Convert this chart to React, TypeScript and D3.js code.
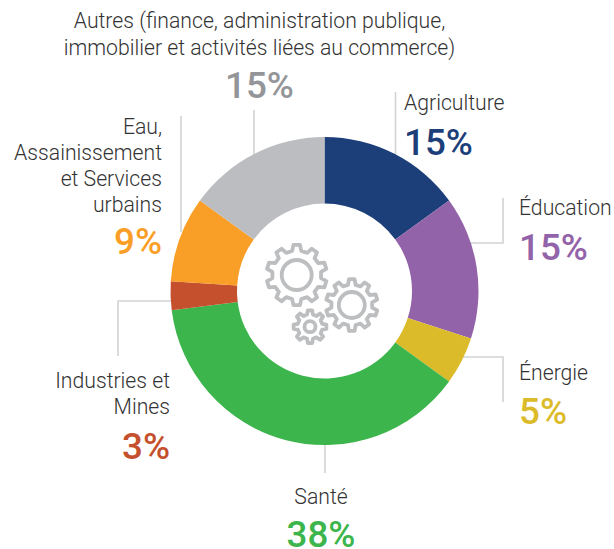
import React from "react";
import * as d3 from "d3";

const sectors = ["Agriculture", "Éducation", "Énergie", "Santé", "Industries et Mines", "Eau", "Autres"];
const shares = [15, 15, 5, 38, 3, 9, 15];
const fills = ["#1c3f7a", "#9363a9", "#dcbb2a", "#3cb54c", "#c5502e", "#f99f27", "#bbbdc0"];

type Caption = { lines: string[]; pct: string; x: number; y: number[]; pctY: number; anchor: string; color: string };
const captions: Caption[] = [
  { lines: ["Agriculture"], pct: "15%", x: 404, y: [110], pctY: 155, anchor: "start", color: "#1c3f7a" },
  { lines: ["Éducation"], pct: "15%", x: 519, y: [215], pctY: 260, anchor: "start", color: "#9363a9" },
  { lines: ["Énergie"], pct: "5%", x: 519, y: [380], pctY: 424, anchor: "start", color: "#dcbb2a" },
  { lines: ["Santé"], pct: "38%", x: 321, y: [504], pctY: 547, anchor: "middle", color: "#3cb54c" },
  { lines: ["Industries et", "Mines"], pct: "3%", x: 170, y: [388, 414], pctY: 459, anchor: "end", color: "#c5502e" },
  { lines: ["Eau,", "Assainissement", "et Services", "urbains"], pct: "9%", x: 162, y: [134, 160, 186, 212], pctY: 254, anchor: "end", color: "#f99f27" },
  { lines: ["Autres (finance, administration publique,", "immobilier et activités liées au commerce)"], pct: "15%", x: 259.5, y: [28, 55], pctY: 98, anchor: "middle", color: "#939598" },
];

const leaders: [number, number][][] = [
  [[395.5, 92], [395.5, 155]],
  [[503, 198], [503, 243], [470, 243]],
  [[463, 357], [503, 357], [503, 402]],
  [[325, 440], [325, 473]],
  [[118, 356], [118, 301], [175, 301]],
  [[181, 116], [181, 232]],
  [[254, 110], [254, 156]],
];

const gears = [
  { cx: 296.7, cy: 275, outer: 30.3, root: 24.5, hole: 15, teeth: 10 },
  { cx: 351.8, cy: 305, outer: 26, root: 20.5, hole: 13, teeth: 10 },
  { cx: 310, cy: 326.7, outer: 16.5, root: 12.5, hole: 5.5, teeth: 8 },
];

const cx = 324.5;
const cy = 291;
const font = "Roboto, sans-serif";

// Outline of one gear: each tooth is a flat top between two sloped flanks.
function gearPath(outer: number, root: number, teeth: number) {
  const step = (2 * Math.PI) / teeth;
  const pts: [number, number][] = [];
  for (let i = 0; i < teeth; i++) {
    const a = i * step;
    pts.push([a - step * 0.3, root], [a - step * 0.17, outer], [a + step * 0.17, outer], [a + step * 0.3, root]);
  }
  return d3.lineRadial<[number, number]>().angle((p) => p[0]).radius((p) => p[1]).curve(d3.curveLinearClosed)(pts) ?? "";
}

export default function App() {
  const pie = d3.pie<number>().sort(null).value((d) => d);
  const arc = d3.arc<d3.PieArcDatum<number>>().innerRadius(87.5).outerRadius(154);
  const line = d3.line();
  return (
    <svg width={614} height={549} style={{ position: "absolute", left: 0, top: 0, background: "#fff" }}>
      {leaders.map((l, i) => (
        <path key={i} d={line(l) ?? ""} fill="none" stroke="#d1d3d4" strokeWidth={1.6} />
      ))}
      <g transform={`translate(${cx},${cy})`}>
        {pie(shares).map((d, i) => (
          <path key={sectors[i]} d={arc(d) ?? ""} fill={fills[i]} />
        ))}
      </g>
      {gears.map((g, i) => (
        <g key={i} transform={`translate(${g.cx},${g.cy})`} fill="none" stroke="#bcbec0" strokeWidth={3.8} strokeLinejoin="round">
          <path d={gearPath(g.outer, g.root, g.teeth)} />
          <circle r={g.hole} />
        </g>
      ))}
      {captions.map((c) => (
        <g key={c.pct + c.lines[0]} textAnchor={c.anchor} fontFamily={font}>
          {c.lines.map((t, j) => (
            <text key={t} x={c.x} y={c.y[j]} fontSize={21.2} fontWeight={300} fill="#333">
              {t}
            </text>
          ))}
          <text x={c.x} y={c.pctY} fontSize={36.8} fontWeight={500} fill={c.color}>
            {c.pct}
          </text>
        </g>
      ))}
    </svg>
  );
}
